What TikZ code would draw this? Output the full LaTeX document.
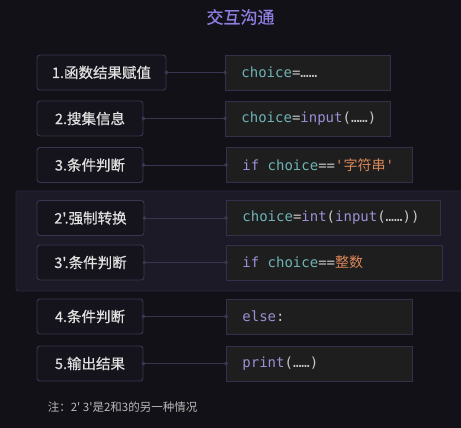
\documentclass[tikz,border=0pt]{standalone}
\usepackage{fontspec}
\newfontfamily\cjkfont{Noto Sans CJK SC}
\newfontfamily\cjkheavy{Noto Sans CJK SC}[FakeBold=0.6]
\newfontfamily\codefont{DejaVu Sans Mono}
\usepackage{tikz}
\usetikzlibrary{arrows.meta}
\definecolor{bgcol}{HTML}{121117}
\definecolor{titlecol}{HTML}{8E7EE0}
\definecolor{stepfill}{HTML}{15141C}
\definecolor{stepline}{HTML}{3B3552}
\definecolor{codefill}{HTML}{1E1E1E}
\definecolor{codeline}{HTML}{35304A}
\definecolor{groupfill}{HTML}{1B1A26}
\definecolor{groupline}{HTML}{28263A}
\definecolor{linkcol}{HTML}{3A3550}
\definecolor{varcol}{HTML}{6EB3B5}
\definecolor{kwcol}{HTML}{9D8FD6}
\definecolor{litcol}{HTML}{D9875A}
\definecolor{opcol}{HTML}{C8C8C8}
\definecolor{notecol}{HTML}{B8B8B8}
\newcommand\vname[1]{\textcolor{varcol}{#1}}
\newcommand\kwd[1]{\textcolor{kwcol}{#1}}
\newcommand\lit[1]{\textcolor{litcol}{#1}}
\newcommand\op[1]{\textcolor{opcol}{#1}}
\newcommand\codegap{\hspace{0.6em}}
\tikzset{every path/.style={line width=0.9pt}}
\tikzset{
  stepbox/.style={draw=stepline,fill=stepfill,rounded corners=3pt,text=white!88!black,
    minimum width=106pt,minimum height=35pt,font=\cjkheavy\fontsize{14.5}{17}\selectfont},
  codebox/.style={draw=codeline,fill=codefill,anchor=west,align=left,inner xsep=16pt,
    minimum height=35pt,font=\codefont\fontsize{14}{17}\selectfont},
  link/.style={draw=linkcol,{Circle[length=4pt]}-{Circle[length=4pt]},
    shorten <=-2pt,shorten >=-2pt}
}

\begin{document}
\begin{tikzpicture}[x=1pt,y=-1pt]
\fill[bgcol] (0,0) rectangle (461,428);
\useasboundingbox (0,0) rectangle (461,428);
\node[text=titlecol,font=\cjkheavy\fontsize{17}{20}\selectfont] (title) at (240.5,17) {交互沟通};
% band behind 2' and 3'
\draw[fill=groupfill,draw=groupline,rounded corners=2pt] (16,191) rectangle (475,291);
% steps
\node[stepbox,minimum width=129pt] (s1) at (101.5,72.5) {1.函数结果赋值};
\node[stepbox] (s2) at (90,118.5) {2.搜集信息};
\node[stepbox] (s3) at (90,165) {3.条件判断};
\node[stepbox,minimum width=107pt] (s2b) at (90.5,218) {2'.强制转换};
\node[stepbox,minimum width=107pt] (s3b) at (90.5,262.5) {3'.条件判断};
\node[stepbox] (s4) at (90,316.5) {4.条件判断};
\node[stepbox] (s5) at (90,363.5) {5.输出结果};
% code
\node[codebox,text width=133pt] (c1) at (225,72.5) {\vname{choice}\op{=……}};
\node[codebox,text width=133pt] (c2) at (225,118.5) {\vname{choice}\op{=}\kwd{input}\op{(……)}};
\node[codebox,text width=154pt] (c3) at (226,165) {\kwd{if}\codegap\vname{choice}\op{==}\lit{'{\cjkfont 字符串}'}};
\node[codebox,text width=182pt] (c2b) at (226,218) {\vname{choice}\op{=}\kwd{int}\op{(}\kwd{input}\op{(……))}};
\node[codebox,text width=184pt] (c3b) at (226,262.5) {\kwd{if}\codegap\vname{choice}\op{==}\lit{\cjkfont 整数}};
\node[codebox,text width=154pt] (c4) at (226,316.5) {\kwd{else}\op{:}};
\node[codebox,text width=154pt] (c5) at (226,363.5) {\kwd{print}\op{(……)}};
% links
\draw[link] (s1.east) -- (c1.west);
\draw[link] (s2.east) -- (c2.west);
\draw[link] (s3.east) -- (c3.west);
\draw[link] (s2b.east) -- (c2b.west);
\draw[link] (s3b.east) -- (c3b.west);
\draw[link] (s4.east) -- (c4.west);
\draw[link] (s5.east) -- (c5.west);
\node[anchor=west,text=notecol,font=\cjkfont\fontsize{11.5}{14}\selectfont] (note) at (44,407) {注：2' 3'是2和3的另一种情况};
\end{tikzpicture}
\end{document}
